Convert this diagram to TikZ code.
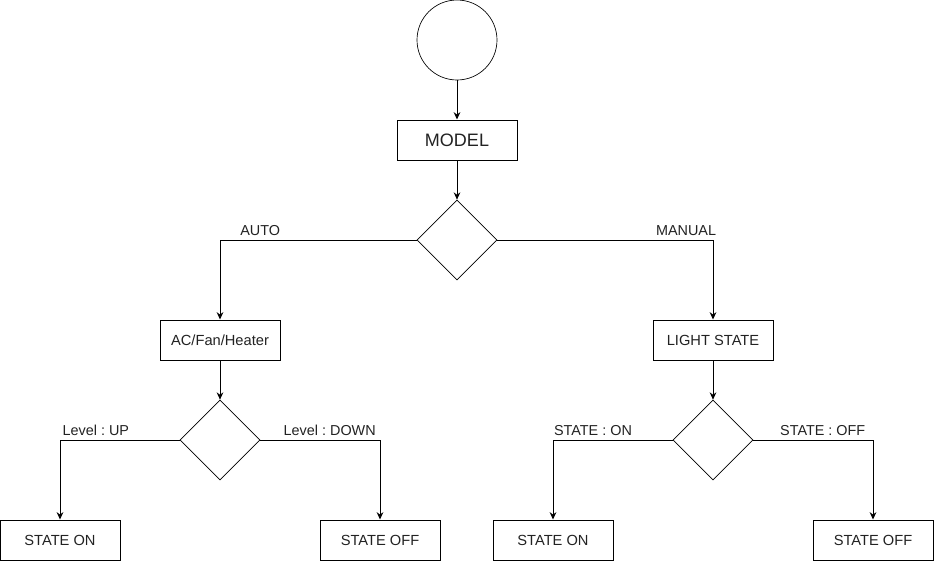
\documentclass[tikz,border=0pt]{standalone}
\usepackage{fontspec}
\setmainfont{Liberation Sans}
\usetikzlibrary{arrows.meta,shapes.geometric}
\definecolor{txt}{HTML}{222222}
\frenchspacing
\begin{document}
\begin{tikzpicture}[x=0.75pt,y=-0.75pt,
  box/.style={draw, line width=0.75pt, minimum width=90pt, minimum height=30pt, inner sep=0pt, font=\fontsize{11}{13}\selectfont, text=txt},
  decision/.style={draw, line width=0.5pt, diamond, minimum width=60pt, minimum height=60pt, inner sep=0pt},
  start/.style={draw, line width=0.5pt, circle, minimum size=60pt, inner sep=0pt},
  arr/.style={line width=0.75pt, -{Stealth[length=5.5pt,width=5pt]}},
  lbl/.style={above, inner sep=3pt, font=\fontsize{10.8}{13}\selectfont, text=txt}]
\useasboundingbox (0,0) rectangle (935,562);
\node[start] (s) at (457,40) {};
\node[box, font=\fontsize{13.5}{16}\selectfont] (model) at (457,140) {MODEL};
\node[decision] (d1) at (457,240) {};
\node[box] (ac) at (220,340) {AC/Fan/Heater};
\node[box] (light) at (713,340) {LIGHT STATE};
\node[decision] (d2) at (220,440) {};
\node[decision] (d3) at (713,440) {};
\node[box] (on1) at (60,540) {STATE ON};
\node[box] (off1) at (380,540) {STATE OFF};
\node[box] (on2) at (553,540) {STATE ON};
\node[box] (off2) at (873,540) {STATE OFF};
\draw[arr] (s) -- (model);
\draw[arr] (model) -- (d1);
\draw[arr] (d1.west) -| node[lbl, pos=0.398] {AUTO} (ac.north);
\draw[arr] (d1.east) -| node[lbl, pos=0.4375] {MANUAL} (light.north);
\draw[arr] (ac) -- (d2);
\draw[arr] (light) -- (d3);
\draw[arr] (d2.west) -| node[lbl, pos=0.35] {Level : UP} (on1.north);
\draw[arr] (d2.east) -| node[lbl, pos=0.29] {Level : DOWN} (off1.north);
\draw[arr] (d3.west) -| node[lbl, pos=0.333] {STATE : ON} (on2.north);
\draw[arr] (d3.east) -| node[lbl, pos=0.29] {STATE : OFF} (off2.north);
\end{tikzpicture}
\end{document}
